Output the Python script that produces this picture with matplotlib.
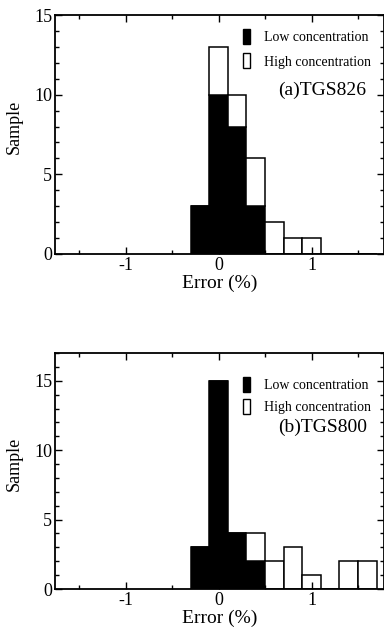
import matplotlib
matplotlib.use("Agg")
import matplotlib.pyplot as plt
from matplotlib.ticker import MultipleLocator
from matplotlib.patches import Patch

bin_centers = [-0.2, 0.0, 0.2, 0.4, 0.6, 0.8, 1.0, 1.2, 1.4, 1.6]
bin_width = 0.2

low_826 = [3, 10, 8, 3, 0, 0, 0, 0, 0, 0]
high_826 = [0, 3, 2, 3, 2, 1, 1, 0, 0, 0]
low_800 = [3, 15, 4, 2, 0, 0, 0, 0, 0, 0]
high_800 = [0, 0, 0, 2, 2, 3, 1, 0, 2, 2]

labels = ["Low concentration", "High concentration"]
panels = [("(a)TGS826", low_826, high_826, 15),
          ("(b)TGS800", low_800, high_800, 17)]

plt.rcParams["font.family"] = ["Liberation Serif", "DejaVu Serif"]
plt.rcParams["axes.unicode_minus"] = False

W, H = 384, 635
fig = plt.figure(figsize=(W / 100, H / 100), dpi=100)
# axes boxes in pixels: left, top, right, bottom
boxes = [(55, 15, 384, 254), (55, 353, 384, 589)]
# legend top (axes fraction) and row spacing per panel
leg_opts = [(0.941, 0.65), (0.898, 0.5)]

for (title, low, high, ytop), (l, t, r, b), (ly, lsp) in zip(panels, boxes, leg_opts):
    ax = fig.add_axes([l / W, 1 - b / H, (r - l) / W, (b - t) / H])
    lw = 1.1
    ax.bar(bin_centers, low, width=bin_width, bottom=0, color="black",
           edgecolor="black", linewidth=lw)
    ax.bar(bin_centers, high, width=bin_width, bottom=low, color="white",
           edgecolor="black", linewidth=lw)
    ax.set_xlim(-1.76, 1.78)
    ax.set_ylim(0, ytop)
    ax.xaxis.set_major_locator(MultipleLocator(1))
    ax.xaxis.set_minor_locator(MultipleLocator(0.5))
    ax.yaxis.set_major_locator(MultipleLocator(5))
    ax.yaxis.set_minor_locator(MultipleLocator(1))
    ax.tick_params(which="both", direction="in", top=True, right=True,
                   labelsize=13, width=1.0)
    ax.tick_params(which="major", length=5, pad=2)
    ax.tick_params(which="minor", length=3)
    for s in ax.spines.values():
        s.set_linewidth(1.3)
    ax.set_xlabel("Error (%)", fontsize=14, labelpad=1)
    ax.set_ylabel("Sample", fontsize=13)
    ax.yaxis.set_label_coords(-0.097, 0.53)

    handles = [Patch(facecolor="black", edgecolor="black", linewidth=1.0),
               Patch(facecolor="white", edgecolor="black", linewidth=1.0)]
    ax.legend(handles, labels, loc="upper left",
              bbox_to_anchor=(0.571, ly), frameon=False, fontsize=10,
              handlelength=0.5, handleheight=1.3, handletextpad=1.0,
              labelspacing=lsp, borderpad=0, borderaxespad=0)
    ax.text(0.678, 0.686, title, transform=ax.transAxes, fontsize=14,
            ha="left", va="center")

fig.savefig("out.png", dpi=100)
